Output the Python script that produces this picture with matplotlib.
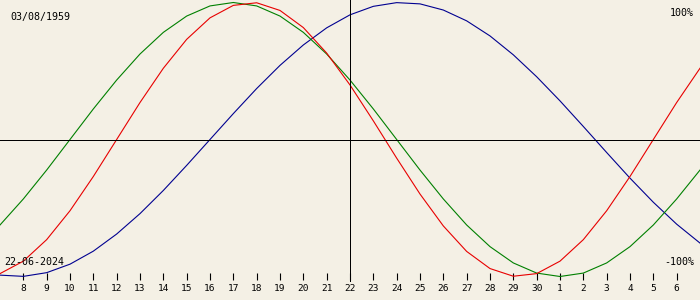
import matplotlib
matplotlib.use("Agg")
import matplotlib.pyplot as plt

# day offsets relative to the target date (22-06-2024), June 7 .. July 7
day_offset = list(range(-15, 16))

physical = [-0.979, -0.888, -0.731, -0.520, -0.270, 0.0, 0.270, 0.520, 0.731, 0.888,
            0.979, 0.998, 0.942, 0.817, 0.631, 0.398, 0.136, -0.136, -0.398, -0.631,
            -0.817, -0.942, -0.998, -0.979, -0.888, -0.731, -0.520, -0.270, 0.0, 0.270, 0.520]
emotional = [-0.624, -0.434, -0.223, 0.0, 0.223, 0.434, 0.624, 0.782, 0.901, 0.975,
             1.0, 0.975, 0.901, 0.782, 0.624, 0.434, 0.223, 0.0, -0.223, -0.434,
             -0.624, -0.782, -0.901, -0.975, -1.0, -0.975, -0.901, -0.782, -0.624, -0.434, -0.223]
intellectual = [-0.990, -0.999, -0.972, -0.910, -0.815, -0.690, -0.541, -0.372, -0.189, 0.0,
                0.189, 0.372, 0.541, 0.690, 0.815, 0.910, 0.972, 0.999, 0.990, 0.945,
                0.866, 0.756, 0.618, 0.458, 0.282, 0.095, -0.095, -0.282, -0.458, -0.618, -0.756]

tick_offsets = list(range(-14, 15))
tick_labels = ["8", "9", "10", "11", "12", "13", "14", "15", "16", "17", "18", "19", "20", "21",
               "22", "23", "24", "25", "26", "27", "28", "29", "30", "1", "2", "3", "4", "5", "6"]

birth_text = "03/08/1959"
target_text = "22-06-2024"

bg = "#F4F0E5"
fig = plt.figure(figsize=(7, 3), dpi=100, facecolor=bg)
ax = fig.add_axes([0, 0, 1, 1], facecolor=bg)

amp = 137.0
zero_px = 139.5
ax.set_xlim(-15, 15)
ax.set_ylim(-(300 - zero_px) / amp, zero_px / amp)

lw = 0.8
ax.plot(day_offset, intellectual, color="#000090", lw=lw)
ax.plot(day_offset, emotional, color="#008000", lw=lw)
ax.plot(day_offset, physical, color="#E80000", lw=lw)

ax.axhline(0, color="black", lw=0.72, antialiased=False)
ax.axvline(0, ymin=(300 - 281) / 300, ymax=1, color="black", lw=0.72, antialiased=False)

for s in ["top", "left", "right"]:
    ax.spines[s].set_visible(False)
ax.spines["bottom"].set_position(("data", -(280 - zero_px) / amp))
ax.spines["bottom"].set_visible(False)
ax.set_xticks(tick_offsets)
ax.set_xticklabels(tick_labels, family="DejaVu Sans Mono", fontsize=6.8)
ax.tick_params(axis="x", direction="in", length=5, width=0.8, color="black", pad=3)
ax.set_yticks([])

mono = dict(family="DejaVu Sans Mono", fontsize=7.2, color="black")
ax.text(10 / 700, 1 - 17 / 300, birth_text, transform=ax.transAxes, va="center", ha="left", **mono)
ax.text(694 / 700, 1 - 13 / 300, "100%", transform=ax.transAxes, va="center", ha="right", **mono)
ax.text(694 / 700, 1 - 262 / 300, "-100%", transform=ax.transAxes, va="center", ha="right", **mono)
ax.text(4 / 700, 1 - 262 / 300, target_text, transform=ax.transAxes, va="center", ha="left", **mono)

fig.savefig("out.png", dpi=100, facecolor=bg)
